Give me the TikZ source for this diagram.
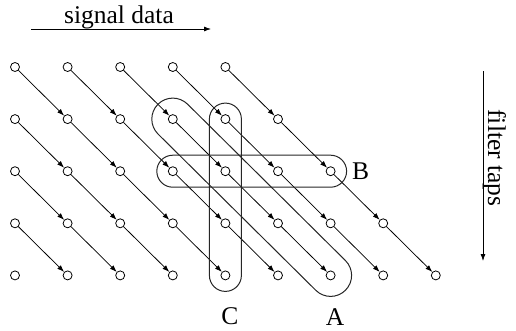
\documentclass[tikz,border=0pt]{standalone}
\usepackage{fontspec}
\setmainfont{Liberation Serif}
\usetikzlibrary{arrows.meta,calc}
\begin{document}
\begin{tikzpicture}[x=1pt,y=-1pt,
  tap/.style={circle,draw,inner sep=0pt,minimum size=9pt,line width=0.8pt},
  flow/.style={-{Latex[length=7pt,width=5pt]},line width=0.75pt},
  loopline/.style={line width=1pt,black!85},
  lbl/.style={font=\fontsize{25.5}{30}\selectfont,inner sep=0pt}]
\useasboundingbox (0,0) rectangle (516,330);
% taps
\foreach \r in {0,...,4}{
  \pgfmathtruncatemacro\last{4+\r}
  \foreach \c in {0,...,\last}{
    \node[tap] (n-\r-\c) at ({15+52.6*\c},{67+52.1*\r}) {};
  }
}
% arrows
\foreach \r in {0,...,3}{
  \pgfmathtruncatemacro\last{4+\r}
  \pgfmathtruncatemacro\nr{\r+1}
  \foreach \c in {0,...,\last}{
    \pgfmathtruncatemacro\nc{\c+1}
    \draw[flow] (n-\r-\c) -- (n-\nr-\nc);
  }
}
% loops
\foreach \ua/\ub/\rad in {n-1-3/n-4-6/21pt, n-2-3/n-2-6/16pt, n-1-4/n-4-4/16pt}{
  \draw[loopline] let \p1=($(\ub)-(\ua)$), \n1={atan2(\y1,\x1)} in
    ($(\ua)!\rad!90:(\ub)$) -- ($(\ub)!\rad!-90:(\ua)$)
    arc[start angle=\n1+90, end angle=\n1-90, radius=\rad]
    -- ($(\ua)!\rad!-90:(\ub)$)
    arc[start angle=\n1-90, end angle=\n1-270, radius=\rad] -- cycle;
}
% labels
\node[lbl] (lA) at (335,317) {A};
\node[lbl,anchor=west] (lB) at (352,171) {B};
\node[lbl] (lC) at (230,316) {C};
% signal data
\coordinate (s0) at (31,29);
\coordinate (s1) at (211,29);
\draw[flow] (s0) -- (s1);
\node[lbl,anchor=base] (sd) at (119,23) {signal data};
% filter taps
\coordinate (f0) at (483,71);
\coordinate (f1) at (483,261);
\draw[flow] (f0) -- (f1);
\node[lbl,anchor=base,rotate=-90] (ft) at (488,158) {filter taps};
\end{tikzpicture}
\end{document}
